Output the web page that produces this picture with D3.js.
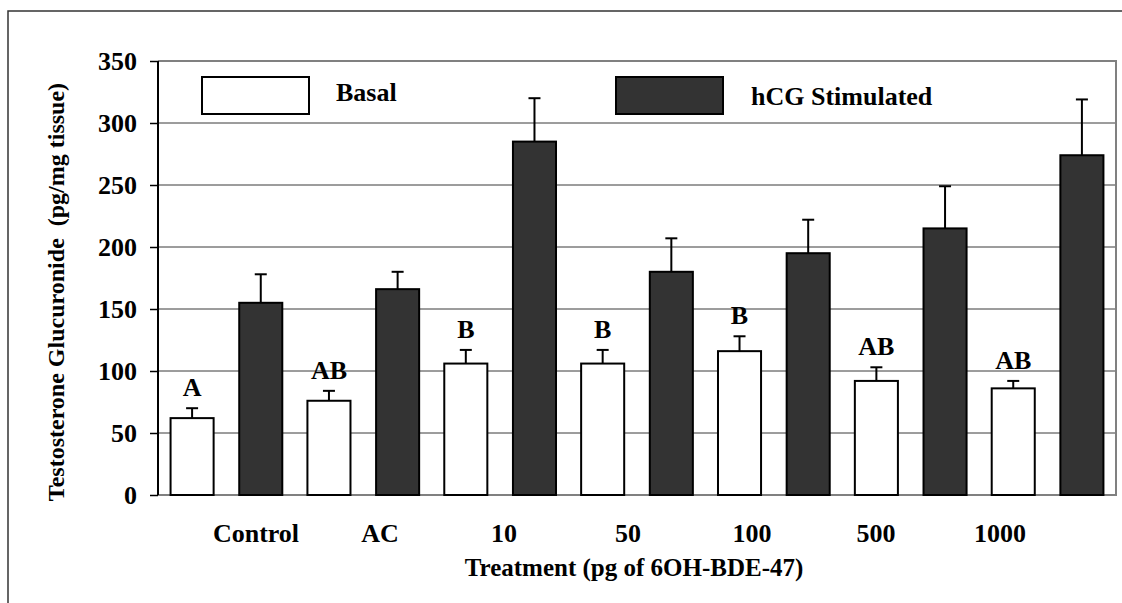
<!DOCTYPE html>
<html>
<head>
<meta charset="utf-8">
<script src="https://cdn.jsdelivr.net/npm/d3@7"></script>
<style>
    body { margin: 0; background: #fff; }
    text { font-family: "Liberation Serif", "Times New Roman", serif; font-weight: bold; fill: #000; }
</style>
</head>
<body>
<svg id="chart"></svg>
<script>
const categories = ["Control", "AC", "10", "50", "100", "500", "1000"];
const basal = [62, 76, 106, 106, 116, 92, 86];
const basalErr = [8, 8, 11, 11, 12, 11, 6];
const hcg = [155, 166, 285, 180, 195, 215, 274];
const hcgErr = [23, 14, 35, 27, 27, 34, 45];
const letters = ["A", "AB", "B", "B", "B", "AB", "AB"];
const yTicks = [0, 50, 100, 150, 200, 250, 300, 350];
const seriesNames = ["Basal", "hCG Stimulated"];

class GroupedBars {
    margin = { top: 61, right: 6, bottom: 108, left: 158 }

    constructor(svg, width = 1122, height = 603) {
        this.svg = svg;
        this.width = width;
        this.height = height;
    }

    initialize() {
        this.svg = d3.select(this.svg)
            .attr("width", this.width)
            .attr("height", this.height);

        this.innerW = 1116 - this.margin.left;
        this.innerH = 495 - this.margin.top;

        this.xScale = d3.scaleBand().domain(categories).range([0, this.innerW]).padding(0);
        this.sScale = d3.scaleBand().domain(seriesNames)
            .range([0, this.xScale.bandwidth()])
            .paddingInner(0.373).paddingOuter(0.183);
        this.yScale = d3.scaleLinear().domain([0, 350]).range([this.innerH, 0]);
        // labels under the axis sit on their own even spacing
        this.labelScale = d3.scalePoint().domain(categories).range([256, 1000]);

        // outer frame (only top and left show)
        this.svg.append("path")
            .attr("d", `M8,${this.height} V11 H${this.width}`)
            .attr("fill", "none").attr("stroke", "#333").attr("stroke-width", 1.5);

        this.container = this.svg.append("g")
            .attr("transform", `translate(${this.margin.left}, ${this.margin.top})`);
    }

    update() {
        const y = this.yScale, x = this.xScale, s = this.sScale;
        const g = this.container;

        g.selectAll("line.grid")
            .data(yTicks.filter(d => d > 0 && d < 350))
            .enter()
            .append("line")
            .attr("class", "grid")
            .attr("x1", 0).attr("x2", this.innerW)
            .attr("y1", d => y(d)).attr("y2", d => y(d))
            .attr("stroke", "#3a3a3a").attr("stroke-width", 1);

        // plot frame: top, right, bottom in grey
        g.append("path")
            .attr("d", `M0,${y(350)} H${this.innerW} V${y(0)} H0`)
            .attr("fill", "none").attr("stroke", "#808080").attr("stroke-width", 2);

        const rows = categories.map((c, i) => ({
            cat: c, letter: letters[i],
            vals: [
                { key: seriesNames[0], v: basal[i], e: basalErr[i] },
                { key: seriesNames[1], v: hcg[i], e: hcgErr[i] }
            ]
        }));

        const groups = g.selectAll("g.group")
            .data(rows)
            .enter()
            .append("g")
            .attr("class", "group")
            .attr("transform", d => `translate(${x(d.cat)},0)`);

        const bars = groups.selectAll("g.bar")
            .data(d => d.vals)
            .enter()
            .append("g")
            .attr("class", "bar");

        bars.append("line")
            .attr("x1", d => s(d.key) + s.bandwidth() / 2)
            .attr("x2", d => s(d.key) + s.bandwidth() / 2)
            .attr("y1", d => y(d.v))
            .attr("y2", d => y(d.v + d.e))
            .attr("stroke", "#000").attr("stroke-width", 2);

        bars.append("line")
            .attr("x1", d => s(d.key) + s.bandwidth() / 2 - 6)
            .attr("x2", d => s(d.key) + s.bandwidth() / 2 + 6)
            .attr("y1", d => y(d.v + d.e))
            .attr("y2", d => y(d.v + d.e))
            .attr("stroke", "#000").attr("stroke-width", 2);

        bars.append("rect")
            .attr("x", d => s(d.key))
            .attr("y", d => y(d.v))
            .attr("width", s.bandwidth())
            .attr("height", d => y(0) - y(d.v))
            .attr("fill", d => d.key === seriesNames[0] ? "#fff" : "#333333")
            .attr("stroke", "#000").attr("stroke-width", 2);

        groups.append("text")
            .attr("x", s(seriesNames[0]) + s.bandwidth() / 2)
            .attr("y", d => y(d.vals[0].v + d.vals[0].e) - 12)
            .attr("text-anchor", "middle")
            .style("font-size", "26px")
            .text(d => d.letter);

        // y axis
        const yAxis = g.append("g")
            .call(d3.axisLeft(y).tickValues(yTicks).tickSize(8).tickPadding(13));
        yAxis.select(".domain").attr("stroke", "#000").attr("stroke-width", 2).attr("d", `M0,${y(0)}V${y(350)}`);
        yAxis.selectAll(".tick line").attr("stroke", "#000").attr("stroke-width", 1.5);
        yAxis.selectAll(".tick text")
            .attr("fill", "#000")
            .style("font-size", "26px")
            .style("font-family", "'Liberation Serif', serif")
            .style("font-weight", "bold");

        // category labels
        this.svg.append("g").selectAll("text")
            .data(categories)
            .enter()
            .append("text")
            .attr("x", d => this.labelScale(d))
            .attr("y", 542)
            .attr("text-anchor", "middle")
            .style("font-size", "26px")
            .text(d => d);

        this.svg.append("text")
            .attr("x", 634).attr("y", 576)
            .attr("text-anchor", "middle")
            .style("font-size", "25px")
            .text("Treatment (pg of 6OH-BDE-47)");

        this.svg.append("text")
            .attr("transform", "translate(64,292) rotate(-90)")
            .attr("text-anchor", "middle")
            .style("font-size", "24px")
            .style("white-space", "pre")
            .text("Testosterone Glucuronide  (pg/mg tissue)");

        // legend
        const legend = this.svg.append("g");
        const legendX = [202, 616];
        const legendTextX = [336, 751];
        legend.selectAll("rect")
            .data(seriesNames)
            .enter()
            .append("rect")
            .attr("x", (d, i) => legendX[i])
            .attr("y", 77)
            .attr("width", 107)
            .attr("height", 37)
            .attr("fill", (d, i) => i === 0 ? "#fff" : "#333333")
            .attr("stroke", "#000").attr("stroke-width", 2);
        legend.selectAll("text")
            .data(seriesNames)
            .enter()
            .append("text")
            .attr("x", (d, i) => legendTextX[i])
            .attr("y", (d, i) => i === 0 ? 101 : 105)
            .style("font-size", "26px")
            .text(d => d);
    }
}

const chart = new GroupedBars(document.getElementById("chart"));
chart.initialize();
chart.update();
</script>
</body>
</html>
